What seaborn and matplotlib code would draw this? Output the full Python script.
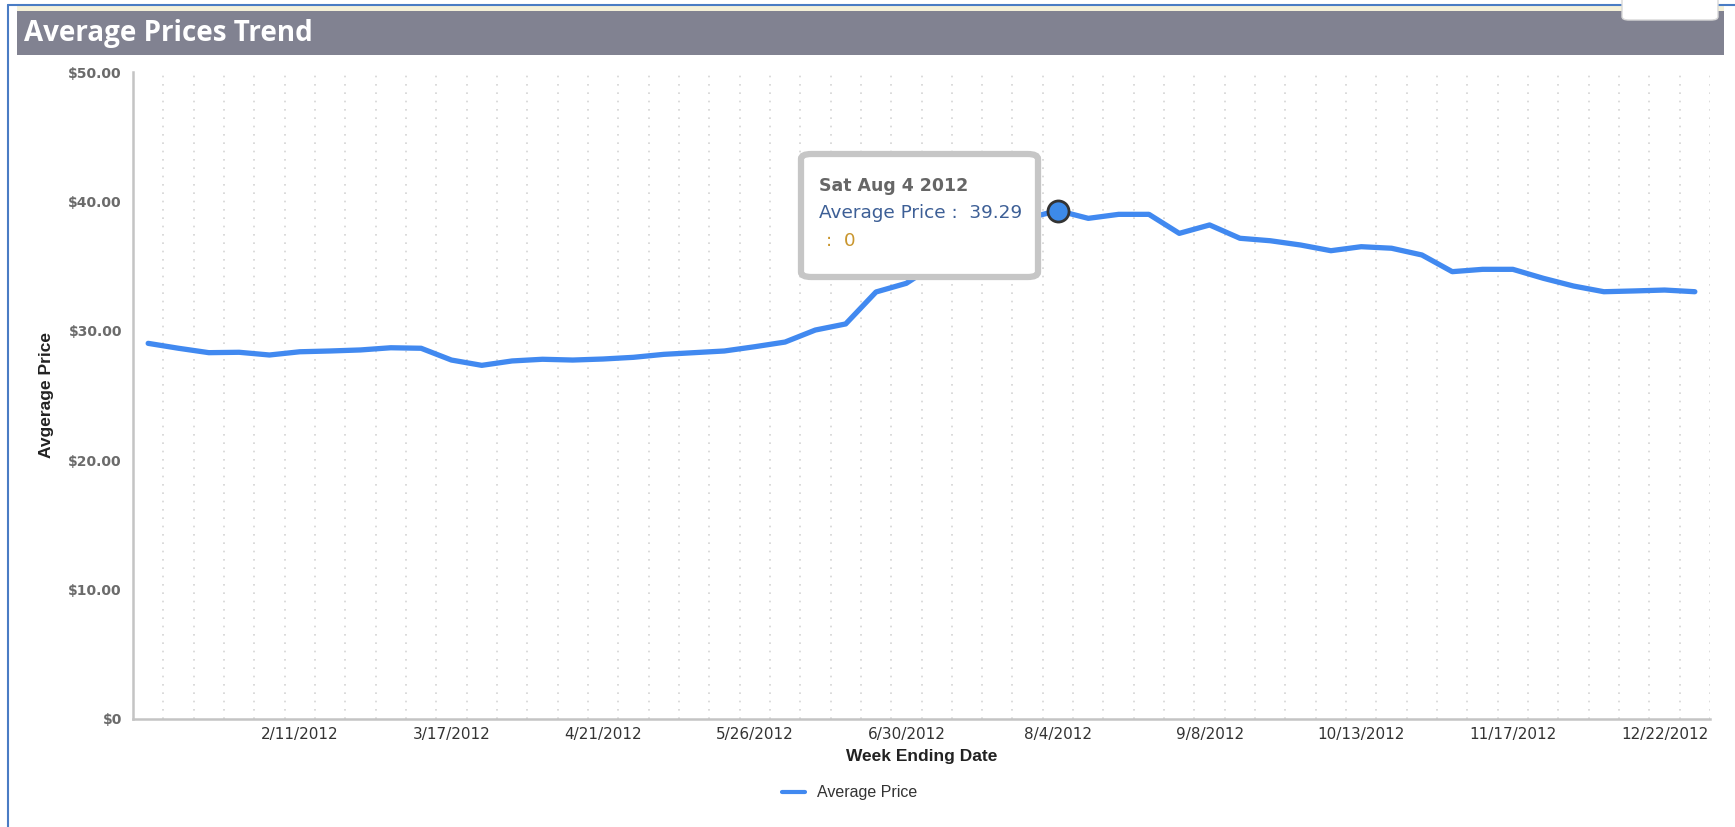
import matplotlib
matplotlib.use('Agg')
import matplotlib.pyplot as plt
import seaborn as sns
import pandas as pd
from matplotlib.patches import Rectangle, FancyBboxPatch

# weekly average prices, week ending Saturday
week_ending = pd.date_range('2012-01-07', periods=52, freq='7D')
avg_price = [
    29.03, 28.65, 28.31, 28.34, 28.13, 28.38, 28.44, 28.52, 28.69, 28.65,
    27.74, 27.33, 27.67, 27.80, 27.74, 27.82, 27.95, 28.18, 28.31, 28.44,
    28.77, 29.13, 30.06, 30.53, 33.00, 33.67, 35.20, 36.70, 37.90, 38.70,
    39.29, 38.69, 39.00, 39.00, 37.53, 38.18, 37.15, 36.96, 36.63, 36.19,
    36.50, 36.38, 35.86, 34.57, 34.75, 34.75, 34.06, 33.46, 33.02, 33.08,
    33.15, 33.02,
]
x_tick_labels = ['2/11/2012', '3/17/2012', '4/21/2012', '5/26/2012', '6/30/2012',
                 '8/4/2012', '9/8/2012', '10/13/2012', '11/17/2012', '12/22/2012']
y_ticks = [0, 10, 20, 30, 40, 50]
y_tick_labels = ['$0', '$10.00', '$20.00', '$30.00', '$40.00', '$50.00']

hover_week = '2012-08-04'
hover_price = 39.29

line_color = '#4189f0'

sns.set_style('white')
plt.rcParams['font.family'] = ['DejaVu Sans']

W, H = 1735, 827
fig = plt.figure(figsize=(W / 100, H / 100), dpi=100)
fig.patch.set_facecolor('white')

def fx(px):
    return px / W

def fy(py):
    return 1 - py / H

# plot area in pixels: x 133..1710, y 72..719
ax = fig.add_axes([fx(133), fy(719), fx(1710 - 133), (719 - 72) / H])

df = pd.DataFrame({'pos': range(len(avg_price)), 'price': avg_price})
sns.lineplot(data=df, x='pos', y='price', ax=ax, color=line_color, linewidth=3.8,
             label='Average Price', solid_joinstyle='round', solid_capstyle='round',
             zorder=3)

hpos = week_ending.get_loc(pd.Timestamp(hover_week))
ax.scatter([hpos], [hover_price], s=230, color='#3d8ae8', edgecolor='#333333',
           linewidth=2, zorder=4)

n = len(avg_price)
ax.set_xlim(-0.5, n - 0.5)
ax.set_ylim(0, 50)

# dotted week separators
ax.vlines([i + 0.5 for i in range(n)], 0, 50, colors='#d4d4d4', linewidth=1.2,
          linestyles=(0, (1, 4)), zorder=1)

tick_pos = [week_ending.get_loc(pd.Timestamp(d)) for d in pd.to_datetime(x_tick_labels, format='%m/%d/%Y')]
ax.set_xticks(tick_pos)
ax.set_xticklabels(x_tick_labels, fontsize=11, color='#333333')
ax.set_yticks(y_ticks)
ax.set_yticklabels(y_tick_labels, fontsize=10, fontweight='bold', color='#6b6b6b')
ax.tick_params(axis='both', length=0)
ax.tick_params(axis='x', pad=6)
ax.tick_params(axis='y', pad=8)

for side in ['top', 'right']:
    ax.spines[side].set_visible(False)
for side in ['left', 'bottom']:
    ax.spines[side].set_color('#c4c4c4')
    ax.spines[side].set_linewidth(1.8)

ax.set_xlabel('Week Ending Date', fontsize=12.5, fontweight='bold', color='#222222',
              family=['Liberation Sans', 'DejaVu Sans'])
ax.xaxis.set_label_coords(0.5, (719 - 756) / 647)
ax.xaxis.label.set_va('center')
ax.set_ylabel('Avgerage Price', fontsize=12.5, fontweight='bold', color='#222222',
              family=['Liberation Sans', 'DejaVu Sans'])
ax.yaxis.set_label_coords((46 - 133) / 1577, 0.5)
ax.yaxis.label.set_va('center')

leg = ax.legend(loc='center', bbox_to_anchor=(fx(850), fy(793)), bbox_transform=fig.transFigure,
                frameon=False, handlelength=1.4, handletextpad=0.8,
                prop={'family': ['Liberation Sans', 'DejaVu Sans'], 'size': 11.5})
for t in leg.get_texts():
    t.set_color('#333333')
for l in leg.get_lines():
    l.set_linewidth(3)

# outer frame (left and top edges) and title bar
fig.add_artist(plt.Line2D([fx(8), fx(8)], [0, fy(5)], color='#4a7cc4', linewidth=1.5,
                          transform=fig.transFigure))
fig.add_artist(plt.Line2D([fx(8), 1], [fy(5), fy(5)], color='#4a7cc4', linewidth=1.5,
                          transform=fig.transFigure))
fig.add_artist(Rectangle((fx(17), fy(11)), fx(1724 - 17), (11 - 6) / H,
                         facecolor='#f4f0d8', edgecolor='none', transform=fig.transFigure))
fig.add_artist(Rectangle((fx(17), fy(55)), fx(1724 - 17), (55 - 11) / H,
                         facecolor='#818291', edgecolor='none', transform=fig.transFigure))
fig.text(fx(24), fy(33), 'Average Prices Trend', color='white', fontsize=20,
         fontweight='bold', family=['Open Sans', 'DejaVu Sans'], va='center', ha='left')
fig.add_artist(FancyBboxPatch((fx(1622), fy(20)), fx(96), 30 / H,
                              boxstyle='round,pad=0,rounding_size=0.004',
                              facecolor='white', edgecolor='#d8d8d8', linewidth=1,
                              transform=fig.transFigure, zorder=6))

# hover tooltip
fig.add_artist(FancyBboxPatch((fx(801), fy(277)), fx(237), (277 - 154) / H,
                              boxstyle='round,pad=0,rounding_size=0.006',
                              facecolor='white', edgecolor='#c6c6c6', linewidth=4.5,
                              transform=fig.transFigure, zorder=6))
fig.text(fx(819), fy(186), 'Sat Aug 4 2012', fontsize=12.5, fontweight='bold', color='#666666',
         va='center', ha='left', zorder=7)
fig.text(fx(819), fy(213), 'Average Price :  39.29', fontsize=13.3, color='#3d5f96',
         va='center', ha='left', zorder=7)
fig.text(fx(826), fy(241), ':  0', fontsize=13.3, color='#c9962e',
         va='center', ha='left', zorder=7)

fig.savefig('out.png', dpi=100)
